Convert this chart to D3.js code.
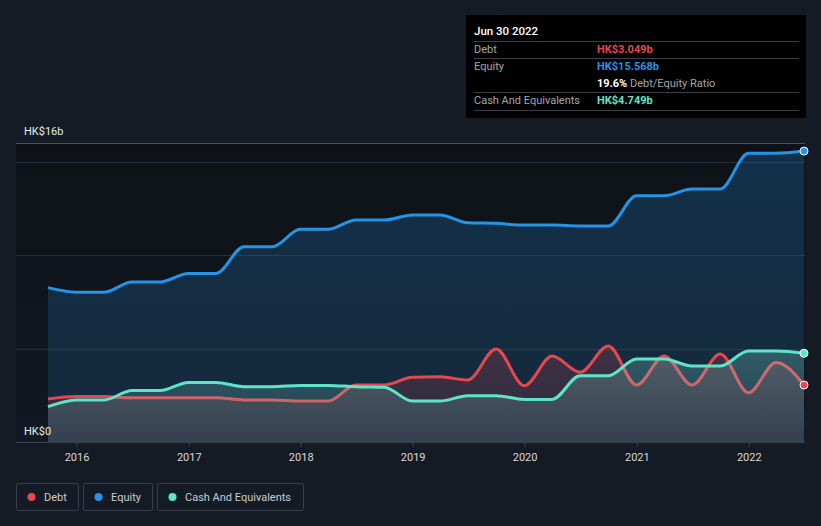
<!DOCTYPE html>
<html>
<head>
<meta charset="utf-8">
<script src="https://cdn.jsdelivr.net/npm/d3@7"></script>
<style>
  html, body { margin: 0; padding: 0; background: #151b25; }
  svg { display: block; font-family: Roboto, "Noto Sans", sans-serif; }
</style>
</head>
<body>
<svg id="chart" width="821" height="526"></svg>
<script>
const dates = ["2015-09-30","2015-12-31","2016-03-31","2016-06-30","2016-09-30","2016-12-31",
  "2017-03-31","2017-06-30","2017-09-30","2017-12-31","2018-03-31","2018-06-30","2018-09-30",
  "2018-12-31","2019-03-31","2019-06-30","2019-09-30","2019-12-31","2020-03-31","2020-06-30",
  "2020-09-30","2020-12-31","2021-03-31","2021-06-30","2021-09-30","2021-12-31","2022-03-31","2022-06-30"];
const debt = [2.30, 2.43, 2.43, 2.37, 2.37, 2.37, 2.37, 2.25, 2.25, 2.19, 2.19, 3.05, 3.05, 3.46,
  3.49, 3.32, 4.98, 3.01, 4.60, 3.73, 5.14, 3.05, 4.60, 3.05, 4.71, 2.64, 4.26, 3.049];
const equity = [8.26, 8.02, 8.02, 8.56, 8.56, 9.02, 9.02, 10.45, 10.45, 11.38, 11.38, 11.88, 11.88, 12.15,
  12.15, 11.73, 11.70, 11.61, 11.61, 11.56, 11.56, 13.18, 13.18, 13.54, 13.54, 15.45, 15.45, 15.568];
const cash = [1.89, 2.25, 2.25, 2.75, 2.75, 3.19, 3.19, 2.96, 2.96, 3.03, 3.03, 2.96, 2.93, 2.19,
  2.19, 2.48, 2.48, 2.28, 2.28, 3.55, 3.55, 4.44, 4.44, 4.07, 4.07, 4.87, 4.87, 4.749];
const gridValues = [5, 10, 15];
const yTopValue = 16;
const yLabels = ["HK$16b", "HK$0"];
const xTickYears = [2016, 2017, 2018, 2019, 2020, 2021, 2022];
const legendItems = ["Debt", "Equity", "Cash And Equivalents"];
const tooltip = { date: "Jun 30 2022", debt: "HK$3.049b", equity: "HK$15.568b", ratio: "19.6%", cash: "HK$4.749b" };

const colors = { debt: "#e5484f", equity: "#2394e6", cash: "#5de4c9" };

const parse = d3.timeParse("%Y-%m-%d");
const rows = dates.map((d, i) => ({ date: parse(d), debt: debt[i], equity: equity[i], cash: cash[i] }));

const svg = d3.select("#chart");
const plotLeft = 16, plotRight = 805, plotTop = 143, plotBottom = 442;

const x = d3.scaleTime().domain([rows[0].date, rows[rows.length - 1].date]).range([48, 804]);
const y = d3.scaleLinear().domain([0, yTopValue]).range([plotBottom, plotTop]);

const defs = svg.append("defs");
function grad(id, color, y1, y2, o1, o2) {
  const g = defs.append("linearGradient").attr("id", id)
    .attr("gradientUnits", "userSpaceOnUse").attr("x1", 0).attr("x2", 0).attr("y1", y1).attr("y2", y2);
  g.append("stop").attr("offset", 0).attr("stop-color", color).attr("stop-opacity", o1);
  g.append("stop").attr("offset", 1).attr("stop-color", color).attr("stop-opacity", o2);
}
grad("gEq", colors.equity, plotTop, plotBottom, 0.24, 0.13);
grad("gDebt", colors.debt, 340, plotBottom, 0.22, 0.10);
grad("gCash", "#7fd6cc", 340, plotBottom, 0.30, 0.12);
const bgG = defs.append("linearGradient").attr("id", "gBg").attr("x1", 0).attr("x2", 0).attr("y1", 0).attr("y2", 1);
bgG.append("stop").attr("offset", 0).attr("stop-color", "#0e1218");
bgG.append("stop").attr("offset", 1).attr("stop-color", "#121822");

// plot background
svg.append("rect").attr("x", plotLeft).attr("y", plotTop).attr("width", plotRight - plotLeft)
  .attr("height", plotBottom - plotTop).attr("fill", "url(#gBg)");

// gridlines
svg.append("g").selectAll("line").data(gridValues).join("line")
  .attr("x1", plotLeft).attr("x2", plotRight)
  .attr("y1", d => Math.round(y(d)) + 0.5).attr("y2", d => Math.round(y(d)) + 0.5)
  .attr("stroke", "#262e3a").attr("stroke-width", 1);
svg.append("line").attr("x1", plotLeft).attr("x2", plotRight)
  .attr("y1", Math.round(y(yTopValue)) + 0.5).attr("y2", Math.round(y(yTopValue)) + 0.5)
  .attr("stroke", "#4b5059").attr("stroke-width", 1);

const curve = d3.curveMonotoneX;
const area = key => d3.area().curve(curve).x(d => x(d.date)).y0(y(0)).y1(d => y(d[key]));
const line = key => d3.line().curve(curve).x(d => x(d.date)).y(d => y(d[key]));

// equity
svg.append("path").datum(rows).attr("d", area("equity")).attr("fill", "url(#gEq)");
svg.append("path").datum(rows).attr("d", line("equity")).attr("fill", "none")
  .attr("stroke", colors.equity).attr("stroke-width", 3);
// debt
svg.append("path").datum(rows).attr("d", area("debt")).attr("fill", "url(#gDebt)");
svg.append("path").datum(rows).attr("d", line("debt")).attr("fill", "none")
  .attr("stroke", colors.debt).attr("stroke-width", 3);
// cash
svg.append("path").datum(rows).attr("d", area("cash")).attr("fill", "url(#gCash)");
svg.append("path").datum(rows).attr("d", line("cash")).attr("fill", "none")
  .attr("stroke", colors.cash).attr("stroke-width", 3);

// baseline
svg.append("line").attr("x1", plotLeft).attr("x2", plotRight)
  .attr("y1", plotBottom + 0.5).attr("y2", plotBottom + 0.5).attr("stroke", "#3b424d");

// end dots
const last = rows[rows.length - 1];
[["equity", colors.equity], ["cash", colors.cash], ["debt", colors.debt]].forEach(([k, c]) => {
  svg.append("circle").attr("cx", x(last.date)).attr("cy", y(last[k])).attr("r", 4)
    .attr("fill", c).attr("stroke", "#ffffff").attr("stroke-width", 1);
});

// x axis
const xAxis = d3.axisBottom(x)
  .tickValues(xTickYears.map(yr => new Date(yr, 0, 1)))
  .tickFormat(d3.timeFormat("%Y")).tickSize(5).tickPadding(6);
const gx = svg.append("g").attr("transform", `translate(0,${plotBottom})`).call(xAxis);
gx.select(".domain").remove();
gx.selectAll(".tick line").attr("stroke", "#3b424d");
gx.selectAll(".tick text").attr("fill", "#d4d7db").attr("font-size", 11)
  .attr("font-family", "Roboto, sans-serif");

// y labels
svg.append("text").attr("x", 24).attr("y", 135).attr("fill", "#e8eaed").attr("font-size", 11).text(yLabels[0]);
svg.append("text").attr("x", 24).attr("y", 435).attr("fill", "#e8eaed").attr("font-size", 11).text(yLabels[1]);

// legend
const legendBoxes = [{ x: 16.5, w: 62, c: colors.debt }, { x: 83.5, w: 69, c: colors.equity }, { x: 157.5, w: 146, c: colors.cash }];
legendItems.forEach((name, i) => {
  const b = legendBoxes[i];
  const g = svg.append("g");
  g.append("rect").attr("x", b.x).attr("y", 483.5).attr("width", b.w).attr("height", 27).attr("rx", 2)
    .attr("fill", "none").attr("stroke", "#39404c").attr("stroke-width", 1);
  g.append("circle").attr("cx", b.x + 15).attr("cy", 497).attr("r", 4).attr("fill", b.c);
  g.append("text").attr("x", b.x + 27.5).attr("y", 501).attr("fill", "#c9ccd1").attr("font-size", 11).text(name);
});

// tooltip
const tt = svg.append("g");
tt.append("rect").attr("x", 466).attr("y", 15).attr("width", 340).attr("height", 103).attr("fill", "#000000");
tt.append("text").attr("x", 474).attr("y", 35).attr("fill", "#ffffff").attr("font-size", 11.5)
  .attr("font-weight", 500).text(tooltip.date);
[41, 58, 92, 110].forEach(yy => {
  tt.append("line").attr("x1", 474).attr("x2", 799).attr("y1", yy + 0.5).attr("y2", yy + 0.5)
    .attr("stroke", "#3c3f44").attr("stroke-width", 1);
});
const lab = "#a3a7ad";
tt.append("text").attr("x", 474).attr("y", 53).attr("fill", lab).attr("font-size", 11).text("Debt");
tt.append("text").attr("x", 597).attr("y", 53).attr("fill", colors.debt).attr("font-size", 11).attr("font-weight", 700).text(tooltip.debt);
tt.append("text").attr("x", 474).attr("y", 70).attr("fill", lab).attr("font-size", 11).text("Equity");
tt.append("text").attr("x", 597).attr("y", 70).attr("fill", colors.equity).attr("font-size", 11).attr("font-weight", 700).text(tooltip.equity);
const rt = tt.append("text").attr("x", 597).attr("y", 87).attr("font-size", 11);
rt.append("tspan").attr("fill", "#ffffff").attr("font-weight", 700).text(tooltip.ratio);
rt.append("tspan").attr("fill", lab).text(" Debt/Equity Ratio");
tt.append("text").attr("x", 474).attr("y", 104).attr("fill", lab).attr("font-size", 11).text("Cash And Equivalents");
tt.append("text").attr("x", 597).attr("y", 104).attr("fill", colors.cash).attr("font-size", 11).attr("font-weight", 700).text(tooltip.cash);
</script>
</body>
</html>
